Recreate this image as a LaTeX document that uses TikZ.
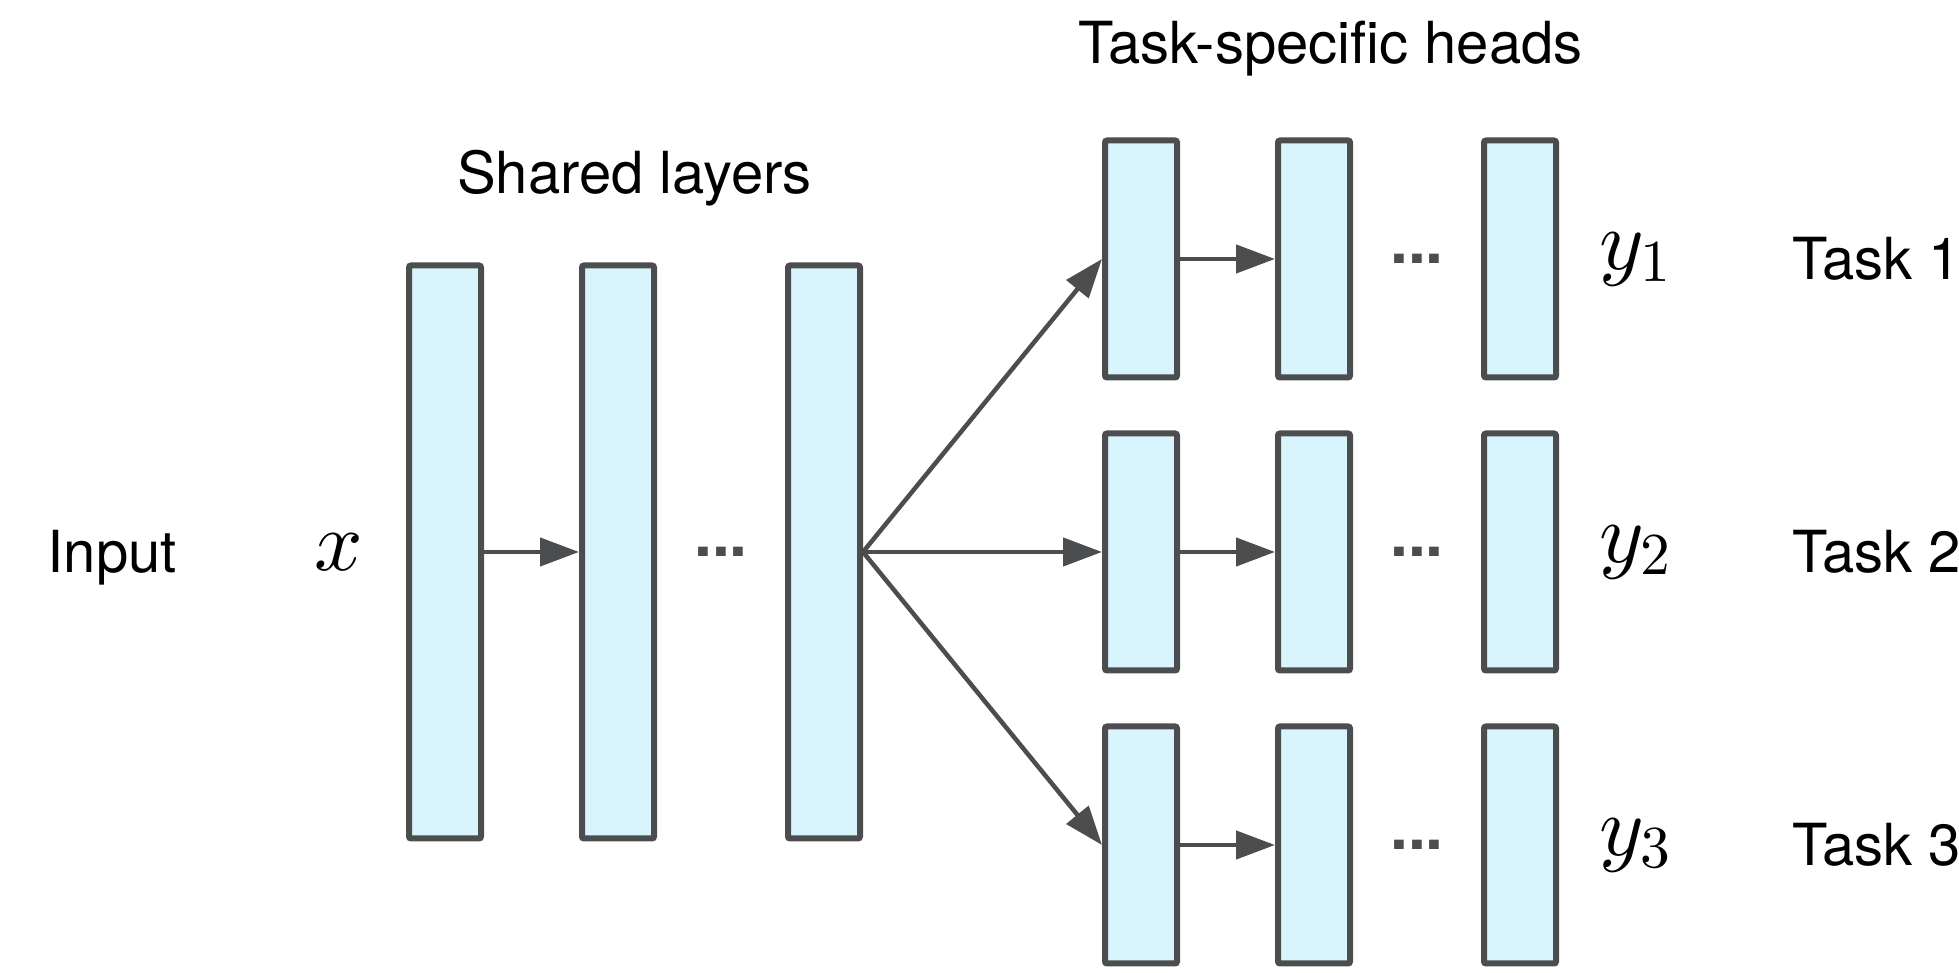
\RequirePackage{fix-cm}
\documentclass[tikz,border=0pt]{standalone}
\usepackage[no-math]{fontspec}
\setmainfont{TeX Gyre Heros}
\DeclareFontShape{OML}{cmm}{m}{it}{<->cmmi10}{\skewchar\font=127}
\DeclareFontShape{OT1}{cmr}{m}{n}{<->cmr10}{}
\usetikzlibrary{arrows.meta,positioning,calc}
\definecolor{edgegray}{HTML}{4B4D4F}
\definecolor{layerblue}{HTML}{D8F4FD}

\begin{document}
\begin{tikzpicture}[
  x=1pt, y=1pt, on grid,
  layer/.style={draw=edgegray, fill=layerblue, line width=6pt, rounded corners=2pt, minimum width=72pt, minimum height=573pt, inner sep=0pt},
  head/.style={layer, minimum height=237pt},
  txt/.style={inner sep=0pt, outer sep=0pt, font=\fontsize{58}{70}\selectfont, text height=42pt, text depth=0pt},
  var/.style={inner sep=0pt, outer sep=0pt, font=\fontsize{85}{100}\selectfont},
  dots/.style={inner sep=0pt, text=edgegray, font=\fontsize{64}{76}\selectfont\bfseries},
  arrow/.style={draw=edgegray, line width=4.5pt, -{Triangle[length=39pt,width=28pt]}}
]
\useasboundingbox (0,0) rectangle (1959,973);

% shared trunk
\node[layer] (s1) at (445,421) {};
\node[layer, right=173pt of s1] (s2) {};
\node[layer, right=206pt of s2] (s3) {};
\node[dots] (sdots) at ($(s2)!0.5!(s3)$) {...};

% heads, one row per task
\node[head, right=317pt of s3] (h2a) {};
\node[head, above=293pt of h2a] (h1a) {};
\node[head, below=293pt of h2a] (h3a) {};
\node[head, right=173pt of h1a] (h1b) {};
\node[head, right=206pt of h1b] (h1c) {};
\node[head, right=173pt of h2a] (h2b) {};
\node[head, right=206pt of h2b] (h2c) {};
\node[head, right=173pt of h3a] (h3b) {};
\node[head, right=206pt of h3b] (h3c) {};
\node[dots] (dots1) at ($(h1b)!0.5!(h1c)$) {...};
\node[dots] (dots2) at ($(h2b)!0.5!(h2c)$) {...};
\node[dots] (dots3) at ($(h3b)!0.5!(h3c)$) {...};

% labels
\node[var, left=106pt of s1] (x) {$x$};
\node[txt, left=227pt of x] (input) {Input};
\node[var, right=115pt of h1c] (y1) {$y_1$};
\node[var, right=115pt of h2c] (y2) {$y_2$};
\node[var, right=115pt of h3c] (y3) {$y_3$};
\node[txt, right=357pt of h1c] (task1) {Task 1};
\node[txt, right=357pt of h2c] (task2) {Task 2};
\node[txt, right=357pt of h3c] (task3) {Task 3};
\coordinate (smid) at ($(s1.north)!0.5!(s3.north)$);
\coordinate (hmid) at ($(h1a.north)!0.5!(h1c.north)$);
\node[txt, anchor=base] (shared) at ($(smid)+(0,69)$) {Shared layers};
\node[txt, anchor=base] (heads) at ($(hmid)+(0,74)$) {Task-specific heads};

% connections
\draw[arrow] (s1) -- (s2);
\draw[arrow] (s3.east) -- (h1a.west);
\draw[arrow] (s3.east) -- (h2a.west);
\draw[arrow] (s3.east) -- (h3a.west);
\draw[arrow] (h1a) -- (h1b);
\draw[arrow] (h2a) -- (h2b);
\draw[arrow] (h3a) -- (h3b);
\end{tikzpicture}
\end{document}
